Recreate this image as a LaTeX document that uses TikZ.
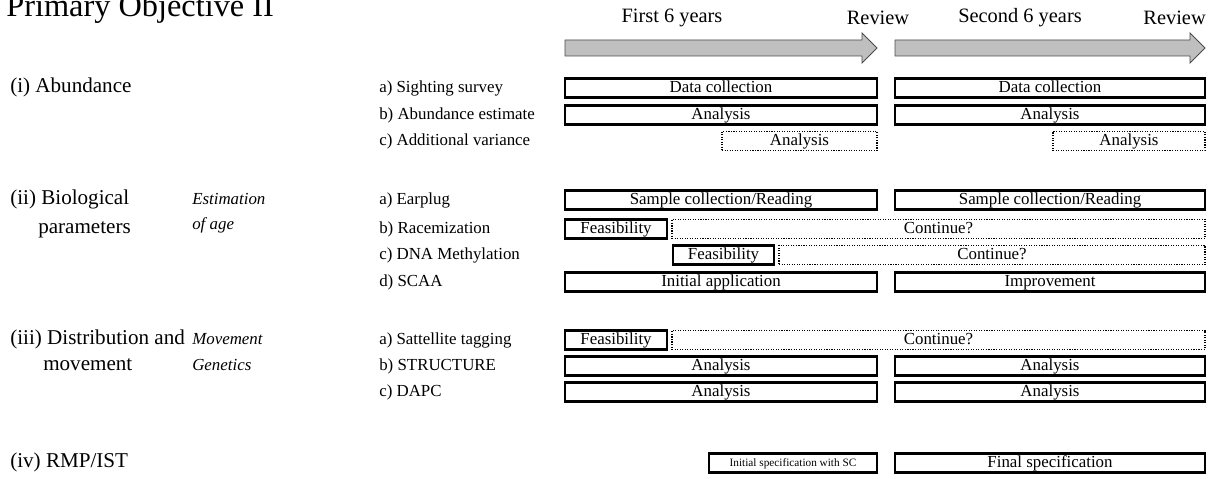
\documentclass[tikz,border=0pt]{standalone}
\usepackage{fontspec}
\setmainfont{Liberation Serif}
\tikzset{
  topic/.style={anchor=mid west, inner sep=0pt, font=\fontsize{15}{18}\selectfont},
  method/.style={anchor=mid west, inner sep=0pt, font=\fontsize{12}{14}\selectfont\itshape},
  item/.style={anchor=mid west, inner sep=0pt, font=\fontsize{12}{14}\selectfont},
  head/.style={inner sep=0pt, font=\fontsize{14.5}{17}\selectfont},
  task/.style={draw, line width=1.5pt, inner sep=0pt, minimum height=0.475cm,
    text height=8.5pt, text depth=2.5pt, font=\fontsize{12}{14}\selectfont},
  maybe/.style={draw, densely dotted, line width=0.8pt, inner sep=0pt, minimum height=0.475cm,
    text height=8.5pt, text depth=2.5pt, font=\fontsize{12}{14}\selectfont},
  phase/.style={draw=black!70, fill=gray!50, line width=0.6pt},
}
\begin{document}
\begin{tikzpicture}[x=0.025cm, y=-0.025cm]
  \useasboundingbox (0,0) rectangle (1208,479);
  \pgfmathsetmacro{\lx}{10}
  \pgfmathsetmacro{\mx}{192}
  \pgfmathsetmacro{\sx}{379}

  \node[anchor=base west, inner sep=0pt, font=\fontsize{23}{26}\selectfont] (title) at (6,17) {Primary Objective II};

  % time line
  \foreach \xa/\xb in {565/877, 895/1205} {
    \draw[phase] (\xa,40) -- ({\xb-15},40) -- ({\xb-15},33) -- (\xb,48)
      -- ({\xb-15},63) -- ({\xb-15},56) -- (\xa,56) -- cycle;
  }
  \node[head] (first) at (672,18) {First 6 years};
  \node[head] (rev1) at (878,18) {Review};
  \node[head] (second) at (1020,18) {Second 6 years};
  \node[head, anchor=east] (rev2) at (1206,18) {Review};

  % objectives
  \node[topic] (ab) at (\lx,89) {(i) Abundance};
  \node[topic] (bio) at (\lx,201) {(ii) Biological};
  \node[topic] (bio2) at (38,230) {parameters};
  \node[topic] (dist) at (\lx,341) {(iii) Distribution and};
  \node[topic] (dist2) at (43,367) {movement};
  \node[topic] (rmp) at (\lx,464) {(iv) RMP/IST};

  \node[method] (est) at (\mx,201) {Estimation};
  \node[method] (est2) at (\mx,226) {of age};
  \node[method] (mov) at (\mx,341) {Movement};
  \node[method] (gen) at (\mx,367) {Genetics};

  \foreach \nm/\yy/\txt in {a1/89/{a) Sighting survey}, a2/116/{b) Abundance estimate},
      a3/142/{c) Additional variance}, b1/201/{a) Earplug}, b2/230/{b) Racemization},
      b3/256/{c) DNA Methylation}, b4/283/{d) SCAA}, c1/341/{a) Sattellite tagging},
      c2/367/{b) STRUCTURE}, c3/393/{c) DAPC}}
    \node[item] (\nm) at (\sx,\yy) {\txt};

  % planned work
  \foreach \nm/\xa/\xb/\yy/\txt in {dc1/565/877/88/{Data collection}, dc2/895/1205/88/{Data collection},
      an1/565/877/115/Analysis, an2/895/1205/115/Analysis,
      ep1/565/877/200/{Sample collection/Reading}, ep2/895/1205/200/{Sample collection/Reading},
      fr/565/667/229/Feasibility, fd/673/774/255/Feasibility,
      sc1/565/877/282/{Initial application}, sc2/895/1205/282/Improvement,
      fs/565/667/340/Feasibility,
      st1/565/877/366/Analysis, st2/895/1205/366/Analysis,
      dp1/565/877/392/Analysis, dp2/895/1205/392/Analysis,
      fsp/895/1205/463/{Final specification}}
    \node[task, minimum width={(\xb-\xa)*0.025cm}] (\nm) at ({(\xa+\xb)/2},\yy) {\txt};
  \node[task, minimum width={168*0.025cm}, font=\fontsize{8}{10}\selectfont, text height=6pt, text depth=1.5pt]
    (isp) at ({(709+877)/2},463) {Initial specification with SC};

  % optional work
  \foreach \nm/\xa/\xb/\yy/\txt in {av1/722/877/141/Analysis, av2/1053/1205/141/Analysis,
      cr/672/1205/229/Continue?, cd/779/1205/255/Continue?, cs/672/1205/340/Continue?}
    \node[maybe, minimum width={(\xb-\xa)*0.025cm}] (\nm) at ({(\xa+\xb)/2},\yy) {\txt};
\end{tikzpicture}
\end{document}
